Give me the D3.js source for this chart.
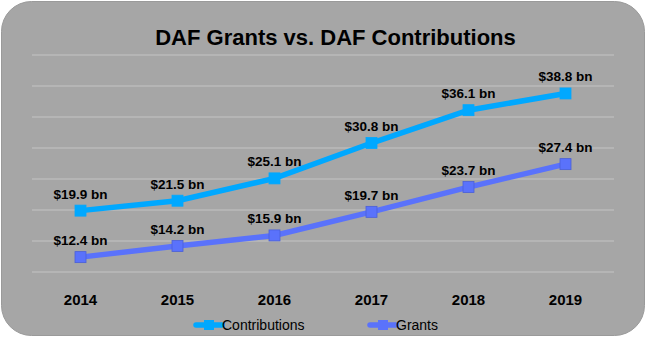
<!DOCTYPE html>
<html>
<head>
<meta charset="utf-8">
<script src="https://cdn.jsdelivr.net/npm/d3@7"></script>
<style>
  body { margin: 0; background: #fff; }
  text { font-family: "Liberation Sans", Arial, sans-serif; }
</style>
</head>
<body>
<div id="chart-area"></div>
<script>
var years = ["2014", "2015", "2016", "2017", "2018", "2019"];
var contributions = [19.9, 21.5, 25.1, 30.8, 36.1, 38.8];
var grants = [12.4, 14.2, 15.9, 19.7, 23.7, 27.4];
var gridValues = [10, 15, 20, 25, 30, 35, 40, 45];

var W = 647, H = 338;
var margin = {left: 32, right: 33, top: 55, bottom: 66};
var width = W - margin.left - margin.right,
    height = H - margin.top - margin.bottom;

var svg = d3.select("#chart-area")
  .append("svg")
    .attr("width", W)
    .attr("height", H);

svg.append("rect")
  .attr("x", 1.5).attr("y", 1.5)
  .attr("width", W - 4).attr("height", H - 4)
  .attr("rx", 30).attr("ry", 30)
  .attr("fill", "#a6a6a6")
  .attr("stroke", "#9a9a9a");

svg.append("text")
  .attr("x", W / 2 + 12)
  .attr("y", 45)
  .attr("text-anchor", "middle")
  .attr("font-size", 22)
  .attr("font-weight", "bold")
  .attr("fill", "#000")
  .text("DAF Grants vs. DAF Contributions");

var g = svg.append("g")
  .attr("transform", "translate(" + margin.left + "," + margin.top + ")");

var x = d3.scaleBand()
  .domain(years)
  .range([0, width]);

var y = d3.scaleLinear()
  .domain([10, 45])
  .range([height, 0]);

// gridlines
g.selectAll(".grid")
  .data(gridValues)
  .enter()
  .append("line")
    .attr("class", "grid")
    .attr("x1", 0).attr("x2", width)
    .attr("y1", function(d){ return y(d); })
    .attr("y2", function(d){ return y(d); })
    .attr("stroke", "#c4c4c4")
    .attr("stroke-width", 1.2);

var xAxis = g.append("g")
  .attr("transform", "translate(0," + height + ")")
  .call(d3.axisBottom(x).tickSize(0).tickPadding(22));
xAxis.select(".domain").remove();
xAxis.selectAll("text")
  .attr("font-size", 15)
  .attr("font-weight", "bold")
  .attr("fill", "#000")
  .style("font-family", "'Liberation Sans', Arial, sans-serif");

var series = [
  {name: "Contributions", values: contributions, color: "#00a8ff"},
  {name: "Grants", values: grants, color: "#5a72fb"}
];

var line = d3.line()
  .x(function(d, i){ return x(years[i]) + x.bandwidth() / 2; })
  .y(function(d){ return y(d); });

series.forEach(function(s) {
  g.append("path")
    .datum(s.values)
    .attr("d", line)
    .attr("fill", "none")
    .attr("stroke", s.color)
    .attr("stroke-width", 5.5);

  g.selectAll(".pt-" + s.name)
    .data(s.values)
    .enter()
    .append("rect")
      .attr("x", function(d, i){ return x(years[i]) + x.bandwidth() / 2 - 5.5; })
      .attr("y", function(d){ return y(d) - 5.5; })
      .attr("width", 11).attr("height", 11)
      .attr("fill", s.color)
      .attr("stroke", s.name == "Grants" ? "#4a5fd8" : s.color)
      .attr("stroke-width", 0.8);

  g.selectAll(".lbl-" + s.name)
    .data(s.values)
    .enter()
    .append("text")
      .attr("x", function(d, i){ return x(years[i]) + x.bandwidth() / 2; })
      .attr("y", function(d){ return y(d) - 12; })
      .attr("text-anchor", "middle")
      .attr("font-size", 13.5)
      .attr("font-weight", "bold")
      .attr("fill", "#000")
      .text(function(d){ return "$" + d.toFixed(1) + " bn"; });
});

// legend
var legend = svg.append("g");
var legendX = [196, 370];
series.forEach(function(s, i) {
  var lg = legend.append("g")
    .attr("transform", "translate(" + legendX[i] + ",325)");
  lg.append("line")
    .attr("x1", 0).attr("x2", 26)
    .attr("stroke", s.color)
    .attr("stroke-width", 5.5)
    .attr("stroke-linecap", "round");
  lg.append("rect")
    .attr("x", 8).attr("y", -5).attr("width", 10).attr("height", 10)
    .attr("fill", s.color);
  lg.append("text")
    .attr("x", 26).attr("y", 5)
    .attr("font-size", 14)
    .attr("fill", "#000")
    .text(s.name);
});
</script>
</body>
</html>
